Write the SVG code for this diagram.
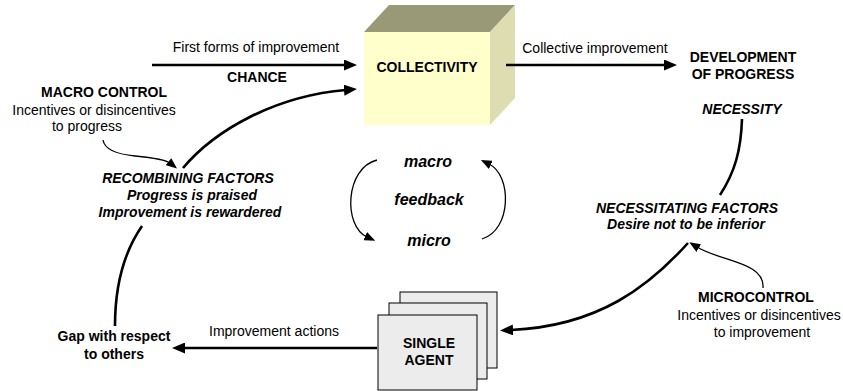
<svg xmlns="http://www.w3.org/2000/svg" width="843" height="391" viewBox="0 0 843 391">
<style>
text{font-family:"Liberation Sans",Arial,sans-serif;fill:#000}
.r{font-size:14px}
.b{font-size:14px;font-weight:bold}
.bi{font-size:14px;font-weight:bold;font-style:italic}
.fb{font-size:16px;font-weight:bold;font-style:italic}
.m{text-anchor:middle}
.thick{fill:none;stroke:#000;stroke-width:2.6}
.thin{fill:none;stroke:#000;stroke-width:1.3}
.box{fill:#ECECEC;stroke:#000;stroke-width:1}
</style>
<defs>
<marker id="ah" markerUnits="userSpaceOnUse" markerWidth="13" markerHeight="11" refX="2" refY="5.5" orient="auto">
<path d="M0,0 L13,5.5 L0,11 z" fill="#000"/>
</marker>
<marker id="as" markerUnits="userSpaceOnUse" markerWidth="11" markerHeight="9" refX="2" refY="4.5" orient="auto">
<path d="M0,0 L11,4.5 L0,9 z" fill="#000"/>
</marker>
</defs>

<g id="collectivity">
<polygon points="364,32 389,5 515,5 490,32" fill="#999977"/>
<polygon points="490,32 515,5 515,98 490,125" fill="#DEDDB2"/>
<rect x="364" y="32" width="126" height="93" fill="#FFFFCC"/>
<text class="b m" x="427" y="72" font-size="13.5">COLLECTIVITY</text>
</g>

<g id="single-agent">
<rect class="box" x="400" y="292" width="97" height="76"/>
<rect class="box" x="389" y="303" width="98" height="76"/>
<rect class="box" x="378" y="315" width="99" height="75"/>
<text class="b m" x="429" y="348">SINGLE</text>
<text class="b m" x="429" y="365">AGENT</text>
</g>

<g id="development">
<text class="b m" x="743" y="62">DEVELOPMENT</text>
<text class="b m" x="743" y="79">OF PROGRESS</text>
<text class="bi m" x="742" y="114">NECESSITY</text>
</g>

<g id="necessitating">
<text class="bi m" x="687" y="213">NECESSITATING FACTORS</text>
<text class="bi m" x="686" y="229">Desire not to be inferior</text>
</g>

<g id="microcontrol">
<text class="b m" x="756" y="302">MICROCONTROL</text>
<text class="r m" x="759" y="320">Incentives or disincentives</text>
<text class="r m" x="762" y="337">to improvement</text>
</g>

<g id="gap">
<text class="b m" x="114" y="341">Gap with respect</text>
<text class="b m" x="114" y="359">to others</text>
</g>

<g id="recombining">
<text class="bi m" x="188" y="183" font-size="13">RECOMBINING FACTORS</text>
<text class="bi m" x="192" y="200" font-size="13">Progress is praised</text>
<text class="bi m" x="190" y="217" font-size="13">Improvement is rewardered</text>
</g>

<g id="macro-control">
<text class="b m" x="104" y="97">MACRO CONTROL</text>
<text class="r m" x="94" y="115">Incentives or disincentives</text>
<text class="r m" x="87" y="131">to progress</text>
</g>

<g id="feedback">
<text class="fb m" x="428" y="167">macro</text>
<text class="fb m" x="429" y="205">feedback</text>
<text class="fb m" x="429" y="246">micro</text>
</g>

<g id="connectors">
<path class="thick" d="M152,65 L346,65" marker-end="url(#ah)"/>
<text class="r m" x="256" y="52">First forms of improvement</text>
<text class="b m" x="257" y="82">CHANCE</text>

<path class="thick" d="M506,65 L666,65" marker-end="url(#ah)"/>
<text class="r m" x="595" y="53">Collective improvement</text>

<path class="thick" d="M742,119 C741,150 735,172 720,195" stroke-width="2"/>

<path class="thick" d="M688,243 C650,285 600,326 511,330" marker-end="url(#ah)"/>
<path class="thin" d="M763,288 C765,262 722,262 697,247" marker-end="url(#as)"/>

<path class="thick" d="M377,348 L183,348" marker-end="url(#ah)"/>
<text class="r m" x="274" y="336">Improvement actions</text>

<path class="thick" d="M115,326 Q115,265 142,226"/>

<path class="thick" d="M183,168 C215,130 275,96 346,90" marker-end="url(#ah)"/>
<path class="thin" d="M103,140 Q105,153 135,156 T170,163" marker-end="url(#as)"/>

<path class="thin" d="M377,160 C345,168 343,226 367,237" marker-end="url(#as)"/>
<path class="thin" d="M482,239 C512,230 512,175 489,164" marker-end="url(#as)"/>
</g>
</svg>
